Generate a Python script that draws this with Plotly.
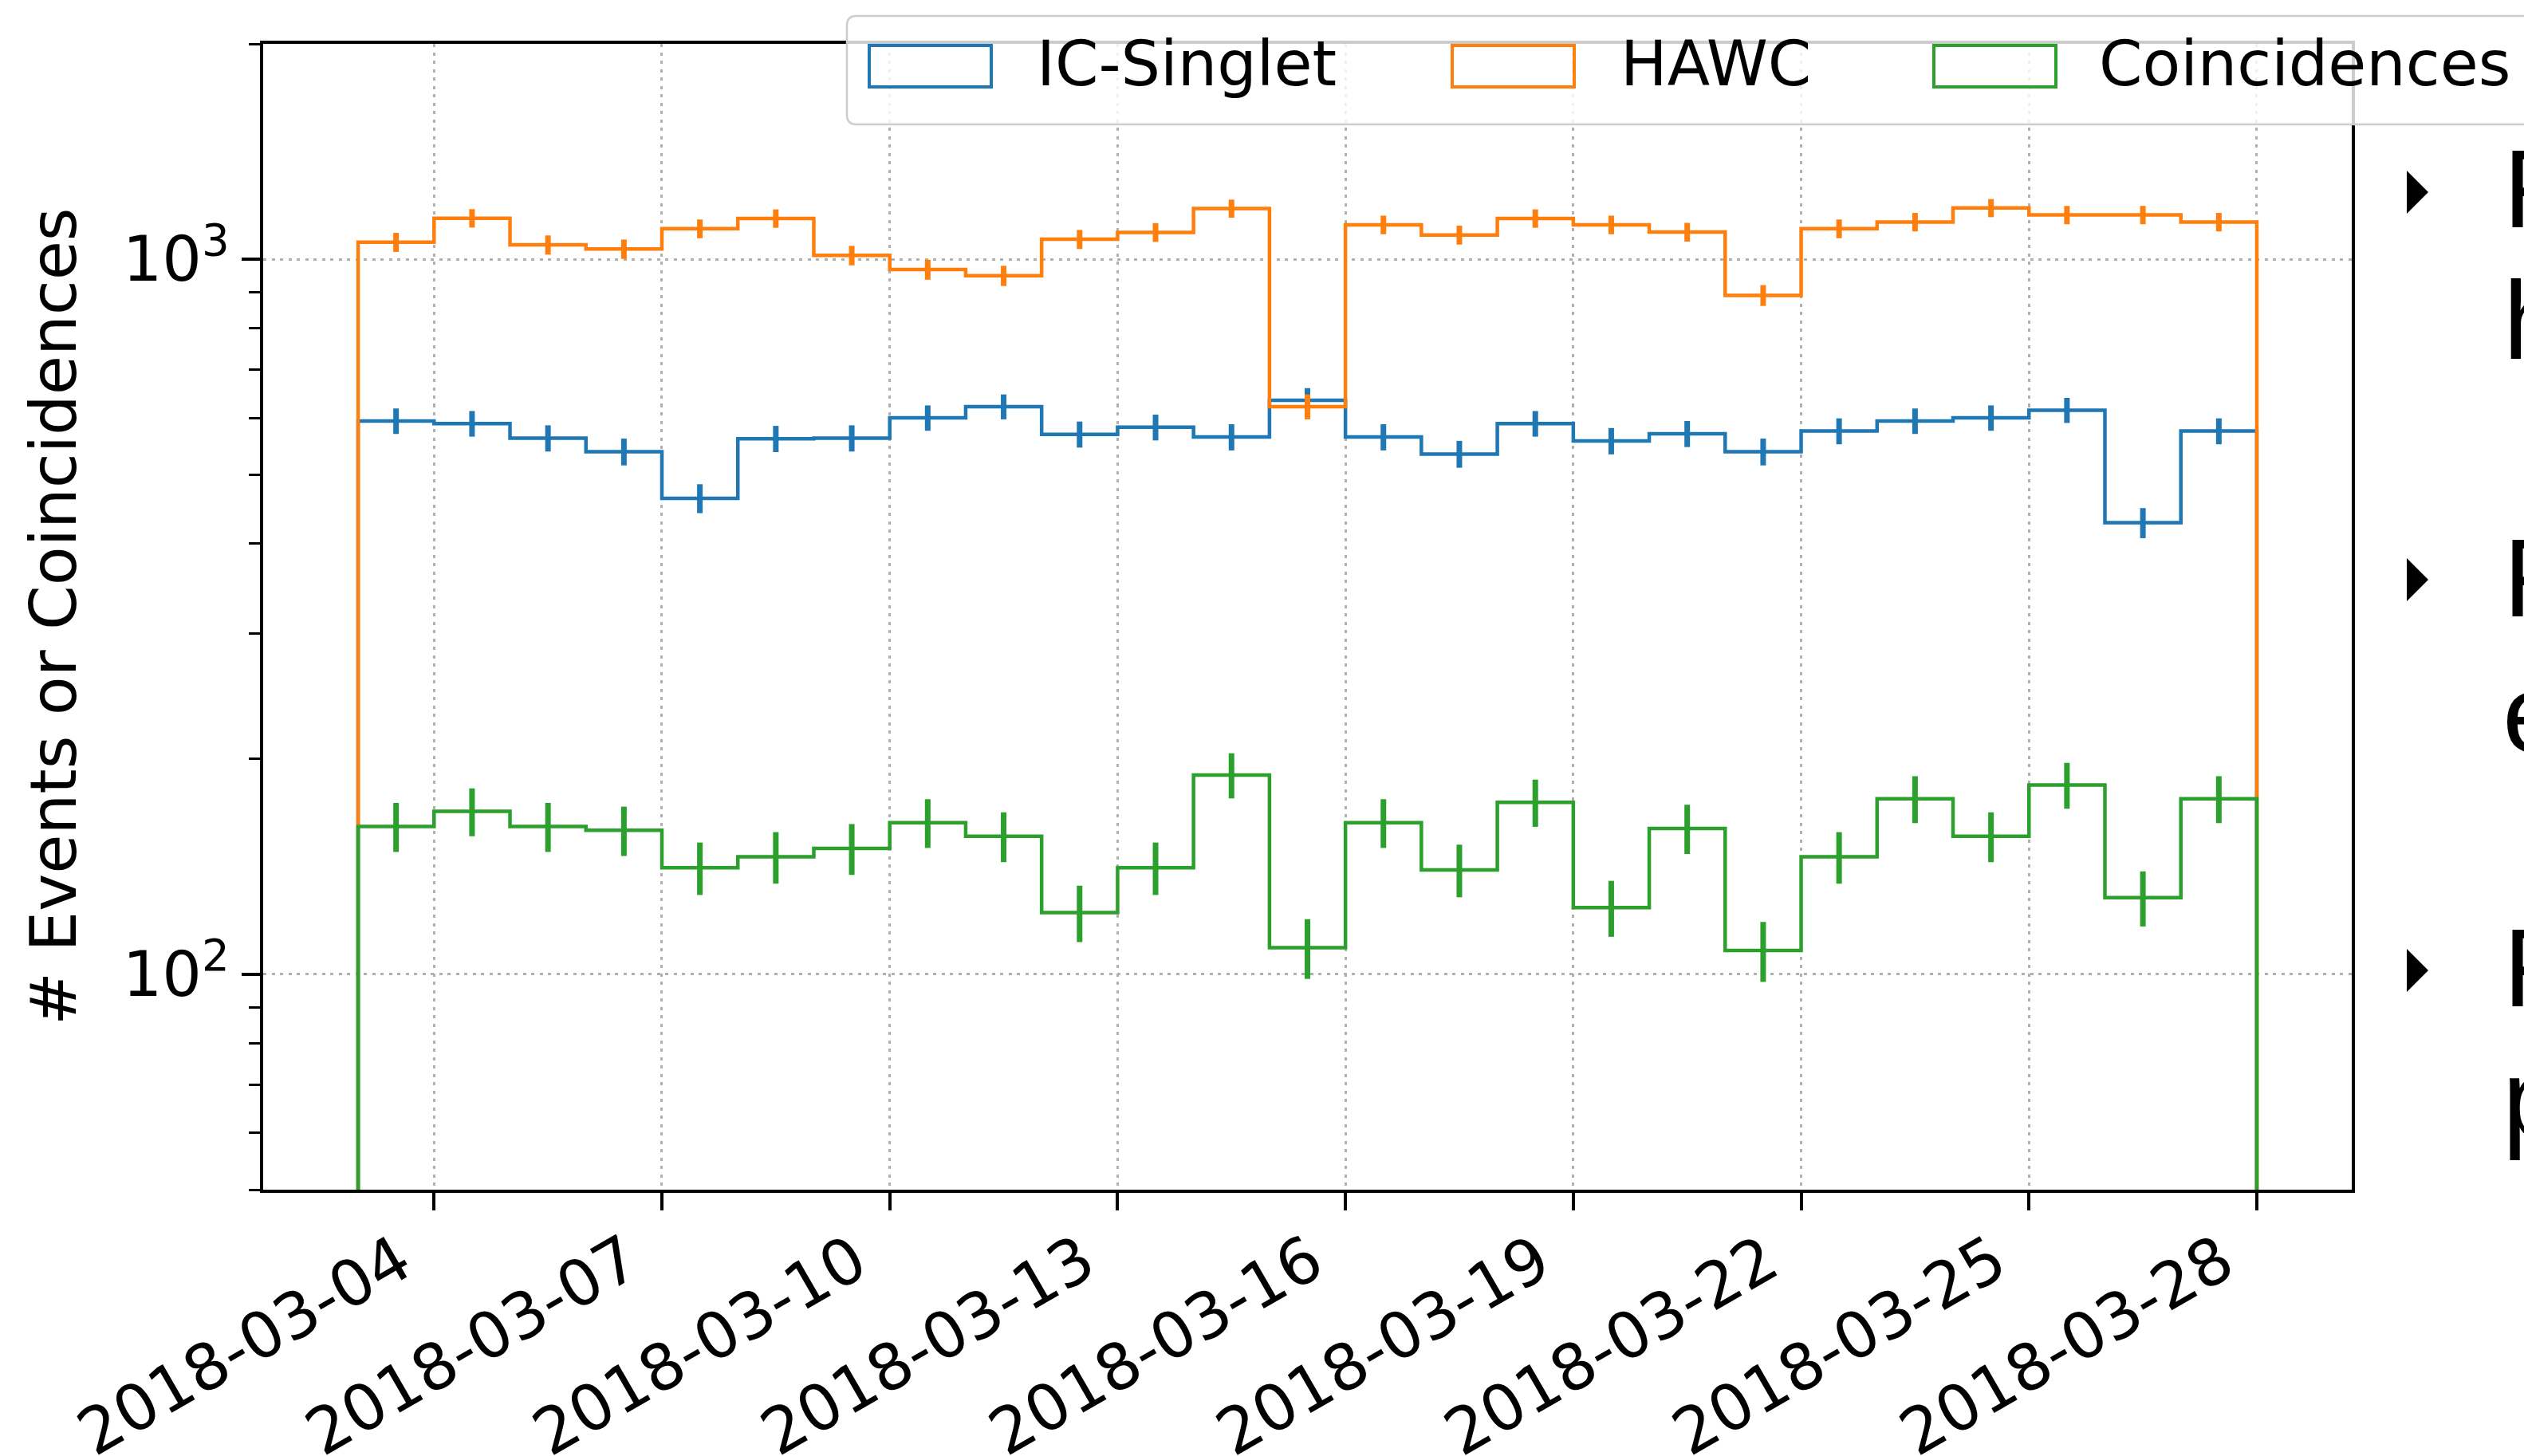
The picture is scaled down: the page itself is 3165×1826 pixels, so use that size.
import numpy as np
import pandas as pd
import plotly.graph_objects as go

# ---- data -------------------------------------------------------------
# daily bins from 2018-03-03 to 2018-03-28
bin_edges = pd.date_range("2018-03-03", "2018-03-28", freq="D")
bin_centers = bin_edges[:-1] + pd.Timedelta(hours=12)

ic_singlet = [594, 589, 562, 538, 463, 561, 562, 600, 622, 569, 582, 564, 635,
              564, 534, 589, 557, 570, 538, 575, 594, 600, 615, 428, 575]
hawc = [1056, 1141, 1047, 1033, 1103, 1140, 1012, 967, 948, 1066, 1090, 1177, 622,
        1117, 1081, 1140, 1117, 1091, 890, 1103, 1127, 1179, 1153, 1153, 1127]
coincidences = [161, 169, 161, 159, 141, 146, 150, 163, 156, 122, 141, 190, 109,
                163, 140, 174, 124, 160, 108, 146, 176, 156, 184, 128, 176]

series_names = ["IC-Singlet", "HAWC", "Coincidences"]
series_counts = [ic_singlet, hawc, coincidences]
series_colors = ["#1f77b4", "#ff7f0e", "#2ca02c"]

x_tick_dates = pd.date_range("2018-03-04", "2018-03-28", freq="3D")
x_tick_labels = [d.strftime("%Y-%m-%d") for d in x_tick_dates]
y_tick_values = [100, 1000]
y_tick_labels = ["10<sup>2</sup>", "10<sup>3</sup>"]
y_minor_values = [50, 60, 70, 80, 90, 200, 300, 400, 500, 600, 700, 800, 900, 2000]

y_title = "# Events or Coincidences"
side_letters = ["F", "h", "F", "e", "F", "p"]

# ---- geometry ---------------------------------------------------------
W, H = 3165, 1826
ML, MR, MT, MB = 330, 216, 55, 334
PW, PH = W - ML - MR, H - MT - MB
FONT = "DejaVu Sans"


def xp(px):
    return (px - ML) / PW


def yp(py):
    return (H - MB - py) / PH


baseline = 1.0  # histogram floor, below the visible range

fig = go.Figure()

for name, counts, color in zip(series_names, series_counts, series_colors):
    step_x = [bin_edges[0]] + list(bin_edges[:-1]) + [bin_edges[-1], bin_edges[-1]]
    step_y = [baseline] + list(counts) + [counts[-1], baseline]
    fig.add_trace(go.Scatter(
        x=step_x, y=step_y, mode="lines", name=name,
        line=dict(color=color, width=4.5, shape="hv"),
        showlegend=False, hoverinfo="skip",
    ))
    fig.add_trace(go.Scatter(
        x=bin_centers, y=counts, mode="markers", name=name,
        marker=dict(size=1, color="rgba(0,0,0,0)"),
        error_y=dict(type="data", array=np.sqrt(counts), color=color,
                     thickness=7, width=0),
        showlegend=False,
    ))

shapes = []
annotations = []

# legend frame (runs past the right edge of the page)
x0, x1 = xp(1062), xp(3220)
yt, yb = yp(20), yp(156)
rx, ry = 12 / PW, 12 / PH
legend_path = (
    f"M {x0 + rx},{yt} L {x1 - rx},{yt} Q {x1},{yt} {x1},{yt - ry} "
    f"L {x1},{yb + ry} Q {x1},{yb} {x1 - rx},{yb} L {x0 + rx},{yb} "
    f"Q {x0},{yb} {x0},{yb + ry} L {x0},{yt - ry} Q {x0},{yt} {x0 + rx},{yt} Z"
)
shapes.append(dict(type="path", xref="paper", yref="paper", path=legend_path,
                   fillcolor="rgba(255,255,255,0.8)",
                   line=dict(color="#cccccc", width=2.5), layer="above"))

patch_left = [1090, 1821, 2425]
label_left = [1298, 2030, 2630]
for name, color, pl, ll in zip(series_names, series_colors, patch_left, label_left):
    shapes.append(dict(type="rect", xref="paper", yref="paper",
                       x0=xp(pl), x1=xp(pl + 153), y0=yp(109), y1=yp(57),
                       line=dict(color=color, width=4), fillcolor="rgba(0,0,0,0)",
                       layer="above"))
    annotations.append(dict(text=name, xref="paper", yref="paper",
                            x=xp(ll), y=yp(80), xanchor="left", yanchor="middle",
                            showarrow=False,
                            font=dict(family=FONT, size=78, color="black")))

# rotated date labels under the ticks, right-aligned like autofmt_xdate
for d, lab in zip(x_tick_dates, x_tick_labels):
    annotations.append(dict(text=lab, xref="x", yref="paper",
                            x=d, y=yp(1530), xanchor="right", yanchor="top",
                            xshift=-12, textangle=-30, showarrow=False,
                            borderpad=0,
                            font=dict(family=FONT, size=80, color="black")))

# y-axis title
annotations.append(dict(text=y_title, xref="paper", yref="paper",
                        x=xp(67), y=yp(773), xanchor="center", yanchor="middle",
                        textangle=-90, showarrow=False,
                        font=dict(family=FONT, size=80, color="black")))

# bullet list beside the chart
bullet_tips = [241, 727, 1217]
for tip in bullet_tips:
    shapes.append(dict(type="path", xref="paper", yref="paper",
                       path=f"M {xp(3018)},{yp(tip - 27)} L {xp(3018)},{yp(tip + 27)} "
                            f"L {xp(3045)},{yp(tip)} Z",
                       fillcolor="black", line=dict(width=0), layer="above"))

letter_baselines = [285, 450, 773, 943, 1262, 1426]
letter_left = [3137, 3137, 3137, 3136, 3137, 3136]
for ch, base, lx in zip(side_letters, letter_baselines, letter_left):
    annotations.append(dict(text=ch, xref="paper", yref="paper",
                            x=xp(lx), y=yp(base - 48.5), xanchor="left",
                            yanchor="middle", showarrow=False,
                            font=dict(family="Liberation Sans Narrow, Liberation Sans",
                                      size=140, color="black")))

axis_common = dict(
    showline=True, linecolor="black", linewidth=3.5, mirror=True,
    ticks="outside", tickcolor="black", tickwidth=3.5,
    showgrid=True, gridcolor="#b0b0b0", gridwidth=2.5, griddash="4px,6.5px",
    zeroline=False, automargin=False,
    tickfont=dict(family=FONT, size=78, color="black"),
)

fig.update_layout(
    width=W, height=H, autosize=False,
    margin=dict(l=ML, r=MR, t=MT, b=MB, pad=0),
    paper_bgcolor="white", plot_bgcolor="white",
    font=dict(family=FONT, color="black"),
    showlegend=False,
    xaxis=dict(
        type="date",
        range=["2018-03-01 18:00", "2018-03-29 06:00"],
        tickmode="array", tickvals=list(x_tick_dates),
        showticklabels=False, ticklen=22,
        **axis_common,
    ),
    yaxis=dict(
        type="log",
        range=[np.log10(50), np.log10(2000)],
        tickmode="array", tickvals=y_tick_values, ticktext=y_tick_labels,
        ticklen=23,
        minor=dict(tickmode="array", tickvals=y_minor_values, ticks="outside",
                   ticklen=14, tickwidth=2.5, tickcolor="black", showgrid=False),
        **axis_common,
    ),
    shapes=shapes,
    annotations=annotations,
)

fig.write_html("out.html")
